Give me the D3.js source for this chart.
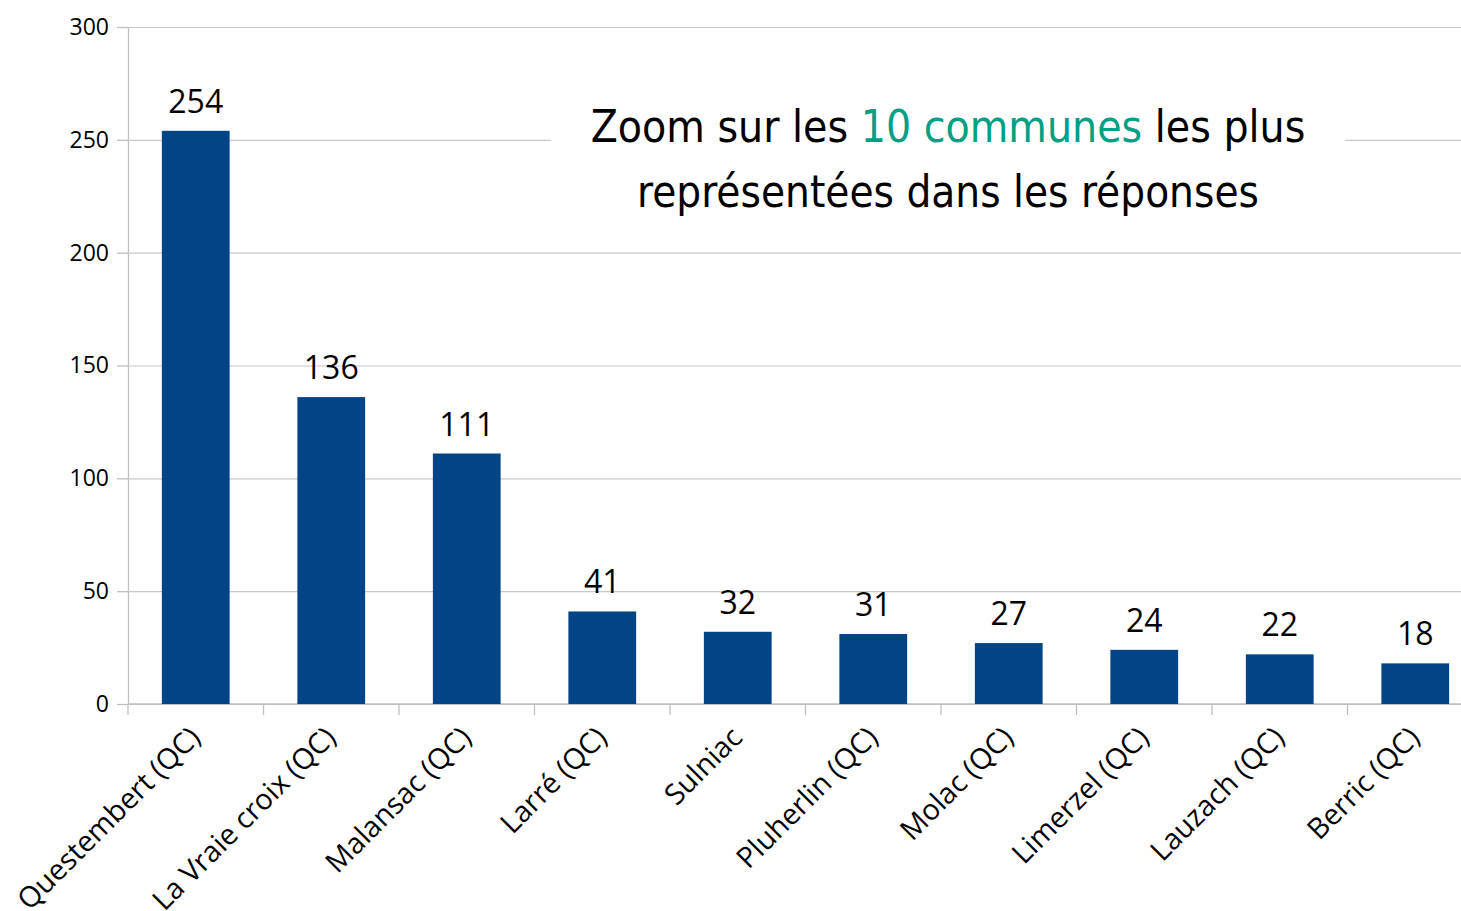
<!DOCTYPE html>
<html>
<head>
<meta charset="utf-8">
<script src="https://cdn.jsdelivr.net/npm/d3@7"></script>
<style>
  body { margin: 0; background: #fff; }
  svg { display: block; }
</style>
</head>
<body>
<svg id="chart"></svg>
<script>
// data
const communes = ["Questembert (QC)", "La Vraie croix (QC)", "Malansac (QC)", "Larré (QC)", "Sulniac",
                  "Pluherlin (QC)", "Molac (QC)", "Limerzel (QC)", "Lauzach (QC)", "Berric (QC)"]
const reponses = [254, 136, 111, 41, 32, 31, 27, 24, 22, 18]
const yTicks = [0, 50, 100, 150, 200, 250, 300]

let width = 1461, height = 911
let margins = {top: 27, left: 128, bottom: 207}

let svg = d3.select("#chart").attr("width", width).attr("height", height)

let x = d3.scaleBand().domain(communes).range([margins.left, margins.left + 1355]).paddingInner(0.5).paddingOuter(0.25)
let y = d3.scaleLinear().domain([0, 300]).range([height - margins.bottom, margins.top])

let font = "'Open Sans', Lato, sans-serif"

// Y AXIS + GRIDLINES
svg.append("g")
    .attr("transform", `translate(${margins.left},0)`)
    .call(d3.axisLeft(y).tickValues(yTicks).tickSizeInner(11).tickSizeOuter(0).tickPadding(8))
    .call(g => g.select(".domain").attr("stroke", "#bfbfbf").attr("stroke-width", 1.3))
    .call(g => g.selectAll(".tick line").attr("stroke", "#bfbfbf").attr("stroke-width", 1.3))
    .call(g => g.selectAll(".tick").append("line")
        .attr("x1", 0).attr("x2", width - margins.left)
        .attr("stroke", "#c8c8c8").attr("stroke-width", 1.2))
    .call(g => g.selectAll("text").attr("font-size", 23).attr("font-family", font).attr("fill", "#000"))

// TITLE BACKGROUND
svg.append("rect")
    .attr("x", 551).attr("y", 70).attr("width", 794).attr("height", 160)
    .attr("fill", "#fff")

// X AXIS
let tickPos = d3.range(communes.length + 1).map(i => margins.left + i * x.step())
let xAxis = svg.append("g")
xAxis.append("line")
    .attr("x1", margins.left).attr("x2", width)
    .attr("y1", y(0)).attr("y2", y(0))
    .attr("stroke", "#bfbfbf").attr("stroke-width", 1.3)
xAxis.selectAll(".xt")
    .data(tickPos)
    .enter()
    .append("line")
        .attr("x1", d => d).attr("x2", d => d)
        .attr("y1", y(0)).attr("y2", y(0) + 11)
        .attr("stroke", "#bfbfbf").attr("stroke-width", 1.3)

let xLabels = xAxis.selectAll(".xlabel")
    .data(communes)
    .enter()
    .append("text")
        .attr("transform", d => `translate(${x(d) + x.bandwidth() / 2 - 1},${y(0) + 28}) rotate(-45)`)
        .attr("text-anchor", "end")
        .attr("dy", "0.35em")
        .attr("font-size", 22)
        .attr("font-family", font)
        .text(d => d)

// fit label size to the reference length of the first label
let firstLen = xLabels.node().getComputedTextLength()
xLabels.attr("font-size", 22 * 244 / firstLen)

// BARS
svg.selectAll(".bar")
    .data(communes)
    .enter()
    .append("rect")
        .attr("x", d => x(d))
        .attr("width", x.bandwidth())
        .attr("y", (d, i) => y(reponses[i]))
        .attr("height", (d, i) => y(0) - y(reponses[i]))
        .attr("fill", "#024486")

// VALUE LABELS
svg.selectAll(".val")
    .data(communes)
    .enter()
    .append("text")
        .attr("x", d => x(d) + x.bandwidth() / 2)
        .attr("y", (d, i) => y(reponses[i]) - 18)
        .attr("text-anchor", "middle")
        .attr("font-size", 32)
        .attr("font-family", font)
        .text((d, i) => reponses[i])

// GRAPH TITLE
let title = svg.append("g").attr("font-family", "'Liberation Sans Narrow', 'DejaVu Sans Condensed', sans-serif")
    .attr("font-size", 50).attr("text-anchor", "middle")
let line1 = title.append("text").attr("x", 948).attr("y", 142)
line1.append("tspan").text("Zoom sur les ")
line1.append("tspan").attr("fill", "#00a084").text("10 communes")
line1.append("tspan").text(" les plus")
let line2 = title.append("text").attr("x", 948).attr("y", 207)
    .text("représentées dans les réponses")

// fit each title line to the reference width
line1.attr("font-size", 50 * 715 / line1.node().getComputedTextLength())
line2.attr("font-size", 50 * 622 / line2.node().getComputedTextLength())
</script>
</body>
</html>
